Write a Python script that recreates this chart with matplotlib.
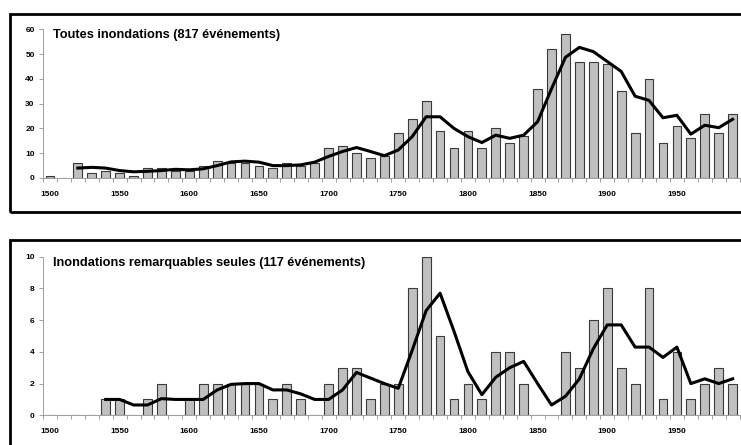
import numpy as np
import matplotlib.pyplot as plt
from matplotlib.patches import Rectangle

plt.rcParams['font.family'] = ['Liberation Sans', 'DejaVu Sans']

# décennies 1500 -> 1990
decades = np.arange(1500, 2000, 10)

# toutes inondations, nombre par décennie
all_counts = [1, 0, 6, 2, 3, 2, 1, 4, 4, 3,
              3, 5, 7, 6, 6, 5, 4, 6, 5, 6,
              12, 13, 10, 8, 9, 18, 24, 31, 19, 12,
              19, 12, 20, 14, 17, 36, 52, 58, 47, 47,
              46, 35, 18, 40, 14, 21, 16, 26, 18, 26]
# courbe lissée (à partir de 1520)
all_smooth_years = np.arange(1520, 2000, 10)
all_smooth = [4.0, 4.3, 4.0, 3.0, 2.5, 2.7, 3.0, 3.5, 3.3, 3.7,
              5.0, 6.5, 6.8, 6.4, 5.0, 5.0, 5.3, 6.4, 8.7, 10.7,
              12.3, 10.7, 9.0, 11.3, 16.7, 24.7, 24.7, 20.0, 16.7, 14.3,
              17.3, 16.0, 17.3, 22.7, 36.0, 48.7, 52.7, 51.0, 47.0, 43.0,
              33.0, 31.3, 24.3, 25.3, 17.7, 21.3, 20.3, 23.7]

# inondations remarquables seules
rem_counts = [0, 0, 0, 0, 1, 1, 0, 1, 2, 0,
              1, 2, 2, 2, 2, 2, 1, 2, 1, 0,
              2, 3, 3, 1, 2, 2, 8, 10, 5, 1,
              2, 1, 4, 4, 2, 0, 0, 4, 3, 6,
              8, 3, 2, 8, 1, 4, 1, 2, 3, 2]
rem_smooth_years = np.arange(1540, 2000, 10)
rem_smooth = [1.0, 1.0, 0.65, 0.65, 1.05, 1.0, 1.0, 1.0, 1.6, 1.95,
              2.0, 2.0, 1.6, 1.6, 1.35, 1.0, 1.0, 1.6, 2.7, 2.35,
              2.0, 1.7, 4.1, 6.6, 7.7, 5.3, 2.75, 1.3, 2.4, 3.0,
              3.4, 2.0, 0.65, 1.2, 2.3, 4.2, 5.7, 5.7, 4.3, 4.3,
              3.65, 4.3, 2.0, 2.3, 2.0, 2.3]

W, H = 741, 445
fig = plt.figure(figsize=(W / 100, H / 100), dpi=100)


def px_axes(left, top, right, bottom):
    return fig.add_axes([left / W, 1 - bottom / H, (right - left) / W, (bottom - top) / H])


def panel(ax, counts, sm_years, sm_vals, ymax, ystep, title):
    ax.bar(decades, counts, width=6.3, color='#c0c0c0', edgecolor='#3a3a3a', linewidth=0.8, zorder=2)
    ax.plot(sm_years, sm_vals, color='black', lw=2.2, zorder=3, solid_joinstyle='round')
    ax.set_xlim(1495, 1996)
    ax.set_ylim(0, ymax)
    ax.set_yticks(np.arange(0, ymax + 1, ystep))
    ax.set_xticks(np.arange(1500, 2000, 50))
    ax.set_xticks(np.arange(1495, 2000, 10), minor=True)
    ax.tick_params(axis='x', which='major', length=0, pad=9, labelsize=6)
    ax.tick_params(axis='x', which='minor', length=3, color='#909090', width=0.6)
    ax.tick_params(axis='y', length=3, color='#909090', width=0.6, labelsize=6, pad=3)
    for lab in ax.get_xticklabels() + ax.get_yticklabels():
        lab.set_fontweight('bold')
    for s in ('top', 'right'):
        ax.spines[s].set_visible(False)
    for s in ('left', 'bottom'):
        ax.spines[s].set_color('#909090')
        ax.spines[s].set_linewidth(0.6)
    ax.patch.set_alpha(0)
    ax.text(0.0143, 0.96, title, transform=ax.transAxes, fontsize=9.2, fontweight='bold',
            ha='left', va='center')


# cadres des deux panneaux
fig.patches.append(Rectangle((10 / W, 1 - 212 / H), 1.1, (212 - 14) / H, transform=fig.transFigure,
                             fill=False, edgecolor='black', linewidth=2.0))
fig.patches.append(Rectangle((10 / W, -0.2), 1.1, 0.2 + 1 - 240 / H, transform=fig.transFigure,
                             fill=False, edgecolor='black', linewidth=2.0))

ax1 = px_axes(43, 29.3, 741, 178)
panel(ax1, all_counts, all_smooth_years, all_smooth, 60, 10, 'Toutes inondations (817 événements)')

ax2 = px_axes(43, 256.7, 741, 415.3)
panel(ax2, rem_counts, rem_smooth_years, rem_smooth, 10, 2, 'Inondations remarquables seules (117 événements)')

fig.savefig('out.png', dpi=100)
